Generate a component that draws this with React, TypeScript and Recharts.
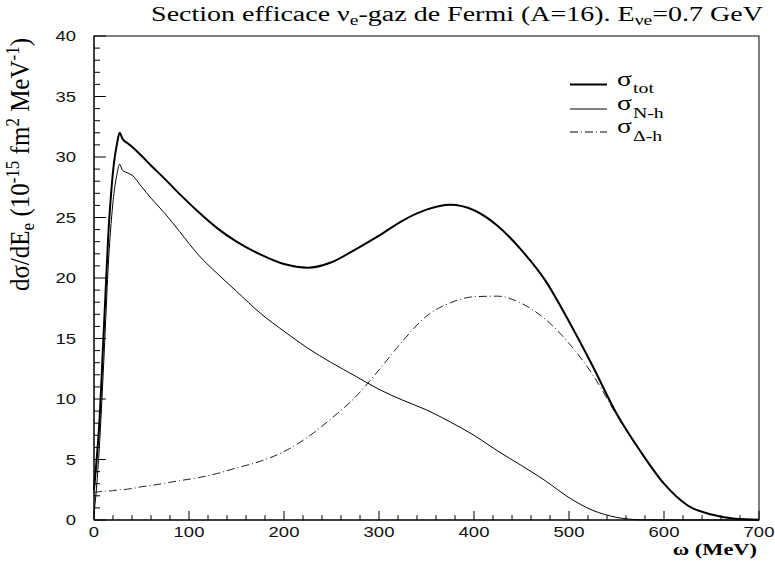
import React from 'react'
import { LineChart, Line, XAxis, YAxis, ReferenceLine } from 'recharts'

// omega (MeV)
const omega = [
  0, 3, 6, 9, 12, 15, 18, 21, 24, 27, 30, 35, 40, 50, 60, 75, 90, 110, 130, 150, 175, 200, 225, 250,
  275, 300, 325, 350, 375, 400, 425, 450, 475, 500, 525, 550, 575, 600, 625, 650, 675, 700
]
const sigmaTot = [
  2.5, 5.2, 8.5, 13.5, 18.5, 23.5, 27, 29.5, 31, 32, 31.5, 31.15, 30.85, 30.1, 29.3, 28.15, 26.95,
  25.45, 24.1, 23.0, 21.95, 21.15, 20.85, 21.3, 22.35, 23.5, 24.75, 25.65, 26.05, 25.6, 24.3, 22.3,
  19.8, 16.4, 12.7, 8.8, 5.7, 3.0, 1.2, 0.45, 0.1, 0.02
]
const sigmaNh = [
  0.5, 3, 6.5, 11, 16, 21, 24.5, 27, 28.5, 29.4, 28.9, 28.7, 28.5, 27.55, 26.6, 25.3, 23.85, 21.9,
  20.35, 18.9, 17.1, 15.6, 14.2, 13.0, 11.9, 10.8, 9.9, 9.1, 8.1, 7.0, 5.7, 4.5, 3.25, 1.85, 0.8,
  0.22, 0.02, 0, 0, 0, 0, 0
]
const sigmaDh = [
  2.3, 2.3, 2.35, 2.35, 2.4, 2.4, 2.4, 2.45, 2.45, 2.5, 2.5, 2.55, 2.6, 2.75, 2.85, 3.05, 3.25, 3.5,
  3.85, 4.3, 4.85, 5.65, 6.85, 8.4, 10.15, 12.4, 14.8, 16.85, 17.95, 18.45, 18.5, 17.9, 16.6, 14.6,
  12.0, 8.7, 5.7, 3.0, 1.2, 0.45, 0.1, 0.02
]

const xMajor = [0, 100, 200, 300, 400, 500, 600, 700]
const yMajor = [0, 5, 10, 15, 20, 25, 30, 35, 40]
// minor ticks: every 20 MeV on x, every 1 unit on y
const xTicks = Array.from({ length: 36 }, (_, i) => i * 20)
const yTicks = Array.from({ length: 41 }, (_, i) => i)

const W = 775
const H = 564
const SX = 1.32 // the original picture is stretched sideways
const serif = '"Liberation Serif", "Times New Roman", serif'
const sans = '"Liberation Sans", Arial, sans-serif'

// inward tick lengths, in data units (x: ~0.95 px/MeV, y: ~12.1 px/unit)
const xTickLen = (v: number) => (xMajor.includes(v) ? 0.75 : 0.4)
const yTickLen = (v: number) => (yMajor.includes(v) ? 12.5 : 6.3)

const XLabel = (props: any) => {
  const x = Number(props.x)
  const y = Number(props.y)
  const v = props.payload.value
  if (!xMajor.includes(v)) return <g />
  return (
    <text
      transform={`translate(${x},${y + 16.5}) scale(${SX},1)`}
      textAnchor="middle"
      fontFamily={sans}
      fontSize={14}
      fill="#111"
    >
      {v}
    </text>
  )
}

const YLabel = (props: any) => {
  const x = Number(props.x)
  const y = Number(props.y)
  const v = props.payload.value
  if (!yMajor.includes(v)) return <g />
  return (
    <text
      transform={`translate(${x - 18},${y + 5}) scale(${SX},1)`}
      textAnchor="end"
      fontFamily={sans}
      fontSize={14}
      fill="#111"
    >
      {v}
    </text>
  )
}

function LegendRow({ y, sub, width, dash }: { y: number; sub: string; width: number; dash?: string }) {
  return (
    <g>
      <line x1={570} x2={607} y1={y} y2={y} stroke="#000" strokeWidth={width} strokeDasharray={dash} />
      <text transform={`translate(617,${y + 1}) scale(1.25,1)`} fontFamily={serif} fontSize={22}>
        σ
      </text>
      <text transform={`translate(633,${y + 8.5}) scale(${SX},1)`} fontFamily={serif} fontSize={15}>
        {sub}
      </text>
    </g>
  )
}

export default function App() {
  const data = omega.map((w, i) => ({ w, tot: sigmaTot[i], nh: sigmaNh[i], dh: sigmaDh[i] }))

  return (
    <div style={{ position: 'absolute', left: 0, top: 0, width: W, height: H, background: '#fff' }}>
      {/* texts and frame sit under the chart svg (which is transparent) */}
      <svg width={W} height={H} style={{ position: 'absolute', left: 0, top: 0 }}>
        <rect x={94} y={36} width={665} height={484} fill="none" stroke="#000" />

        <text transform={`translate(457,21) scale(1.4,1)`} textAnchor="middle" fontFamily={serif} fontSize={20}>
          Section efficace ν
          <tspan fontSize={14} dy={4}>e</tspan>
          <tspan dy={-4}>-gaz de Fermi (A=16). E</tspan>
          <tspan fontSize={14} dy={4}>νe</tspan>
          <tspan dy={-4}>=0.7 GeV</tspan>
        </text>

        <text
          transform={`translate(29,38) scale(1.05,1) rotate(-90)`}
          textAnchor="end"
          fontFamily={serif}
          fontSize={25}
        >
          dσ/dE
          <tspan fontSize={17} dy={5}>e</tspan>
          <tspan dy={-5}> (10</tspan>
          <tspan fontSize={17} dy={-10}>-15</tspan>
          <tspan dy={10}> fm</tspan>
          <tspan fontSize={17} dy={-10}>2</tspan>
          <tspan dy={10}> MeV</tspan>
          <tspan fontSize={17} dy={-10}>-1</tspan>
          <tspan dy={10}>)</tspan>
        </text>

        <text
          transform={`translate(757,555) scale(${SX},1)`}
          textAnchor="end"
          fontFamily={serif}
          fontSize={17}
          fontWeight="bold"
        >
          ω (MeV)
        </text>

        <LegendRow y={84.5} sub="tot" width={2} />
        <LegendRow y={109} sub="N-h" width={1} />
        <LegendRow y={132} sub="Δ-h" width={1} dash="8 3 1 3" />
      </svg>

      <LineChart width={W} height={H} data={data} margin={{ top: 36, right: 16, bottom: 0, left: 0 }}>
        <XAxis
          dataKey="w"
          type="number"
          domain={[0, 700]}
          ticks={xTicks}
          interval={0}
          height={44}
          tickLine={false}
          tickSize={0}
          tickMargin={0}
          axisLine={{ stroke: '#000' }}
          tick={(p: any) => <XLabel {...p} />}
        />
        <YAxis
          type="number"
          domain={[0, 40]}
          ticks={yTicks}
          interval={0}
          width={94}
          tickLine={false}
          tickSize={0}
          tickMargin={0}
          axisLine={{ stroke: '#000' }}
          tick={(p: any) => <YLabel {...p} />}
        />
        {/* inward tick marks, placed through the chart's own scales */}
        {xTicks.map((v) => (
          <ReferenceLine
            key={`xt-${v}`}
            segment={[
              { x: v, y: 0 },
              { x: v, y: xTickLen(v) }
            ]}
            stroke="#000"
            strokeWidth={1}
            ifOverflow="visible"
          />
        ))}
        {yTicks.map((v) => (
          <ReferenceLine
            key={`yt-${v}`}
            segment={[
              { x: 0, y: v },
              { x: yTickLen(v), y: v }
            ]}
            stroke="#000"
            strokeWidth={1}
            ifOverflow="visible"
          />
        ))}
        <Line
          dataKey="dh"
          type="monotone"
          stroke="#222"
          strokeWidth={1}
          strokeDasharray="8 3 1 3"
          dot={false}
          isAnimationActive={false}
        />
        <Line dataKey="nh" type="monotone" stroke="#000" strokeWidth={1} dot={false} isAnimationActive={false} />
        <Line dataKey="tot" type="monotone" stroke="#000" strokeWidth={2} dot={false} isAnimationActive={false} />
      </LineChart>
    </div>
  )
}
